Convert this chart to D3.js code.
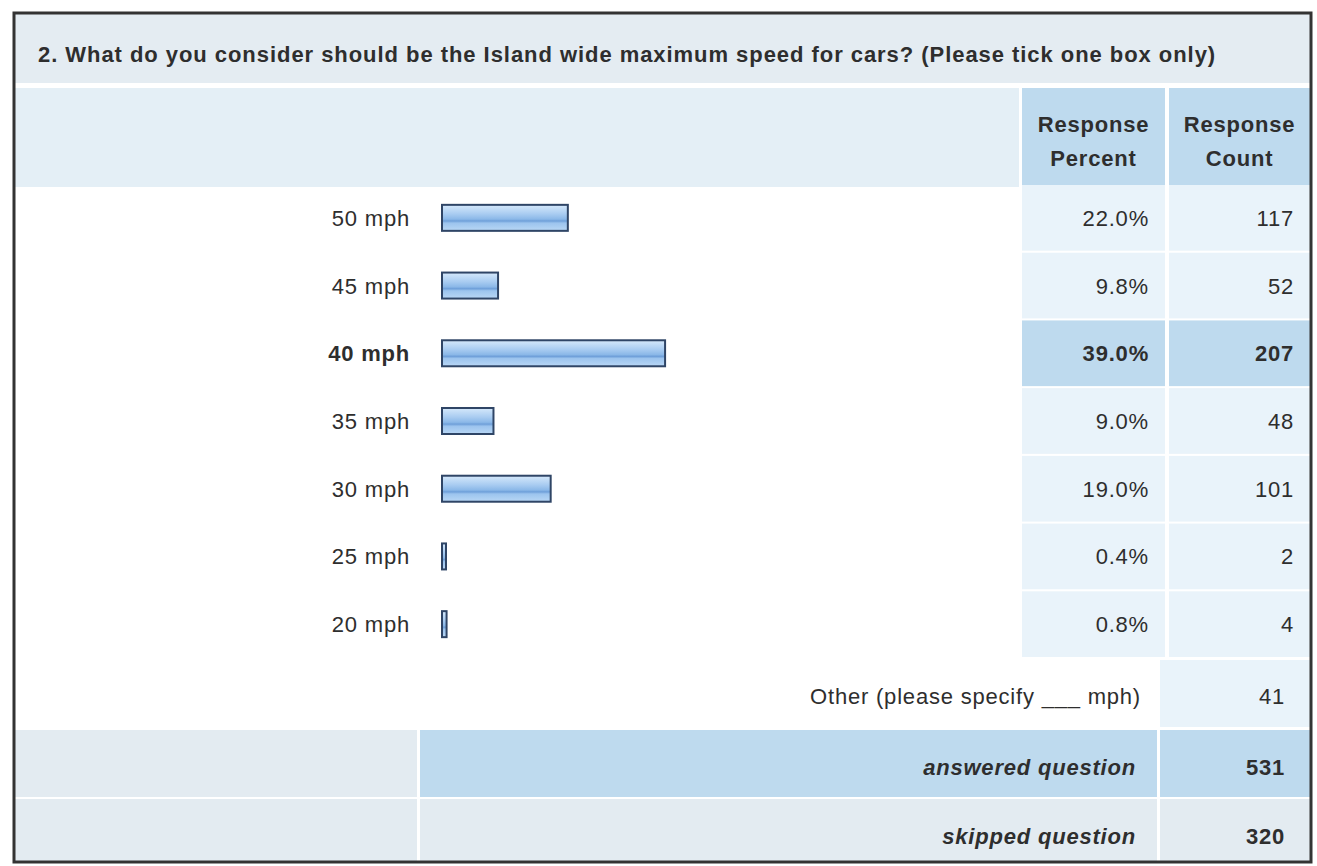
<!DOCTYPE html>
<html>
<head>
<meta charset="utf-8">
<script src="https://cdn.jsdelivr.net/npm/d3@7"></script>
<style>
  html, body { margin: 0; padding: 0; background: #fff; }
  svg text { font-family: "Liberation Sans", Arial, sans-serif; fill: #2e2e2e; letter-spacing: 0.8px; }
</style>
</head>
<body>
<div id="chart"></div>
<script>
const title = '2. What do you consider should be the Island wide maximum speed for cars? (Please tick one box only)';
const categories = ['50 mph', '45 mph', '40 mph', '35 mph', '30 mph', '25 mph', '20 mph'];
const percents = [22.0, 9.8, 39.0, 9.0, 19.0, 0.4, 0.8];
const counts = [117, 52, 207, 48, 101, 2, 4];
const headers = [['Response', 'Percent'], ['Response', 'Count']];
const otherLabel = 'Other (please specify ___ mph)';
const otherCount = 41;
const summaryLabels = ['answered question', 'skipped question'];
const summaryCounts = [531, 320];

const W = 1317;
const H = 866;
const box = { left: 14, top: 13, right: 1311, bottom: 862 };
const colPct = { x0: 1022, x1: 1165 };
const colCnt = { x0: 1169, x1: 1310 };

const rows = categories.map((c, i) => ({ name: c, pct: percents[i], count: counts[i] }));
const maxPct = d3.max(percents);

const svg = d3.select('#chart').append('svg')
  .attr('width', W)
  .attr('height', H);

const defs = svg.append('defs');
const grad = defs.append('linearGradient')
  .attr('id', 'barFill')
  .attr('x1', 0).attr('y1', 0).attr('x2', 0).attr('y2', 1);
[[0, '#d6e9fb'], [0.35, '#a9ccf1'], [0.55, '#8bb8e8'], [0.62, '#6e9fd9'], [0.7, '#9cc4ee'], [1, '#b9d7f5']]
  .forEach(([o, c]) => grad.append('stop').attr('offset', o).attr('stop-color', c));

// title band
svg.append('rect')
  .attr('x', box.left).attr('y', box.top)
  .attr('width', box.right - box.left).attr('height', 70)
  .attr('fill', '#e4ecf2');
svg.append('text')
  .attr('x', 38).attr('y', 62)
  .style('font-size', '22px')
  .style('font-weight', 'bold')
  .style('letter-spacing', '0.95px')
  .text(title);

// header band
svg.append('rect')
  .attr('x', box.left).attr('y', 88)
  .attr('width', colPct.x0 - 3 - box.left).attr('height', 99)
  .attr('fill', '#e4eff6');
[colPct, colCnt].forEach((col, i) => {
  svg.append('rect')
    .attr('x', col.x0).attr('y', 88)
    .attr('width', col.x1 - col.x0).attr('height', 99)
    .attr('fill', '#bedaee');
  headers[i].forEach((line, j) => {
    svg.append('text')
      .attr('x', (col.x0 + col.x1) / 2)
      .attr('y', 132 + j * 34)
      .attr('text-anchor', 'middle')
      .style('font-size', '22px')
      .style('font-weight', 'bold')
      .text(line);
  });
});

// rows
const y = d3.scaleBand()
  .domain(categories)
  .range([185, 657])
  .paddingInner(0.03);

const x = d3.scaleLinear()
  .domain([0, 100])
  .range([442, 442 + 572]);

const row = svg.selectAll('g.row')
  .data(rows).enter()
  .append('g')
  .attr('class', 'row')
  .attr('transform', d => `translate(0,${y(d.name)})`);

const isTop = d => d.pct === maxPct;
const bw = y.bandwidth();

row.append('rect')
  .attr('x', colPct.x0).attr('width', colPct.x1 - colPct.x0)
  .attr('height', bw)
  .attr('fill', d => (isTop(d) ? '#bedaee' : '#e9f3fa'));
row.append('rect')
  .attr('x', colCnt.x0).attr('width', colCnt.x1 - colCnt.x0)
  .attr('height', bw)
  .attr('fill', d => (isTop(d) ? '#bedaee' : '#e9f3fa'));

row.append('text')
  .attr('x', 410).attr('y', bw / 2 + 8)
  .attr('text-anchor', 'end')
  .style('font-size', '22px')
  .style('font-weight', d => (isTop(d) ? 'bold' : 'normal'))
  .text(d => d.name);

row.append('rect')
  .attr('x', x(0))
  .attr('y', bw / 2 - 13)
  .attr('width', d => Math.max(x(d.pct) - x(0), 4))
  .attr('height', 26)
  .attr('fill', 'url(#barFill)')
  .attr('stroke', '#2f4566')
  .attr('stroke-width', 2);

row.append('text')
  .attr('x', 1149).attr('y', bw / 2 + 8)
  .attr('text-anchor', 'end')
  .style('font-size', '22px')
  .style('font-weight', d => (isTop(d) ? 'bold' : 'normal'))
  .text(d => `${d.pct.toFixed(1)}%`);

row.append('text')
  .attr('x', 1294).attr('y', bw / 2 + 8)
  .attr('text-anchor', 'end')
  .style('font-size', '22px')
  .style('font-weight', d => (isTop(d) ? 'bold' : 'normal'))
  .text(d => d.count);

// other row
const colTot = { x0: 1160, x1: 1310 };
svg.append('rect')
  .attr('x', colTot.x0).attr('y', 660)
  .attr('width', colTot.x1 - colTot.x0).attr('height', 67)
  .attr('fill', '#e9f3fa');
svg.append('text')
  .attr('x', 1141).attr('y', 704)
  .attr('text-anchor', 'end')
  .style('font-size', '22px')
  .text(otherLabel);
svg.append('text')
  .attr('x', 1285).attr('y', 704)
  .attr('text-anchor', 'end')
  .style('font-size', '22px')
  .text(otherCount);

// summary rows
const summaryY = [730, 799];
const summaryH = [67, 63];
summaryLabels.forEach((label, i) => {
  const top = summaryY[i];
  const answered = i === 0;
  svg.append('rect')
    .attr('x', box.left).attr('y', top)
    .attr('width', 417 - box.left).attr('height', summaryH[i])
    .attr('fill', '#e3ebf1');
  svg.append('rect')
    .attr('x', 420).attr('y', top)
    .attr('width', 1157 - 420).attr('height', summaryH[i])
    .attr('fill', answered ? '#bedaee' : '#e3ebf1');
  svg.append('rect')
    .attr('x', colTot.x0).attr('y', top)
    .attr('width', colTot.x1 - colTot.x0).attr('height', summaryH[i])
    .attr('fill', answered ? '#bedaee' : '#e3ebf1');
  svg.append('text')
    .attr('x', 1136).attr('y', top + 45)
    .attr('text-anchor', 'end')
    .style('font-size', '22px')
    .style('font-weight', 'bold')
    .style('font-style', 'italic')
    .text(label);
  svg.append('text')
    .attr('x', 1285).attr('y', top + 45)
    .attr('text-anchor', 'end')
    .style('font-size', '22px')
    .style('font-weight', 'bold')
    .text(summaryCounts[i]);
});

// outer frame
svg.append('rect')
  .attr('x', box.left).attr('y', box.top)
  .attr('width', box.right - box.left).attr('height', box.bottom - box.top)
  .attr('fill', 'none')
  .attr('stroke', '#333')
  .attr('stroke-width', 3);
</script>
</body>
</html>
